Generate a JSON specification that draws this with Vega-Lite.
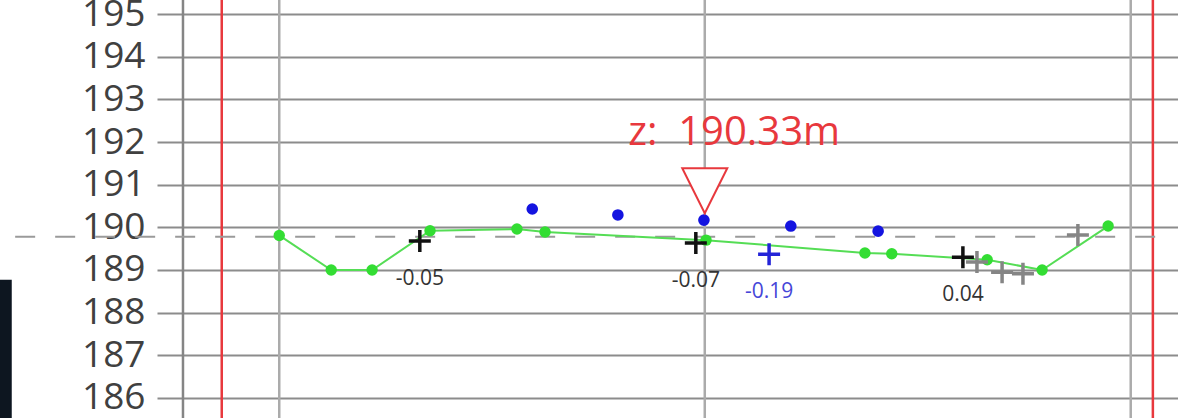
{
  "$schema": "https://vega.github.io/schema/vega-lite/v6.json",
  "width": 1021,
  "height": 418,
  "autosize": {"type": "none"},
  "padding": {"left": 157, "top": 0, "right": 0, "bottom": 0},
  "background": "white",
  "config": {
    "view": {"stroke": null},
    "axisY": {
      "grid": true, "gridColor": "#8c8c8c", "gridWidth": 2, "gridOpacity": 1,
      "domain": false, "ticks": false,
      "labelFont": "Open Sans", "labelFontSize": 37, "labelColor": "#404040", "labelPadding": 12
    }
  },
  "resolve": {"scale": {"color": "independent"}},
  "datasets": {
    "panel": [{"x": -16.55, "x2": -16.27, "y": 185.53, "y2": 188.77}],
    "vlines": [
      {"x": -12.25, "kind": "axis"},
      {"x": -9.99, "kind": "grid"},
      {"x": 0.0, "kind": "grid"},
      {"x": 10.0, "kind": "grid"},
      {"x": -11.34, "kind": "bank"},
      {"x": 10.52, "kind": "bank"}
    ],
    "dashed": [{"x": -16.19, "x2": 11.0, "y": 189.78}],
    "green": [
      {"x": -9.99, "y": 189.81},
      {"x": -8.77, "y": 189.0},
      {"x": -7.81, "y": 189.0},
      {"x": -6.45, "y": 189.92},
      {"x": -4.41, "y": 189.96},
      {"x": -3.75, "y": 189.89},
      {"x": 0.03, "y": 189.7},
      {"x": 3.76, "y": 189.4},
      {"x": 4.39, "y": 189.38},
      {"x": 6.63, "y": 189.24},
      {"x": 7.92, "y": 189.0},
      {"x": 9.47, "y": 190.03}
    ],
    "blue": [
      {"x": -4.05, "y": 190.43},
      {"x": -2.04, "y": 190.29},
      {"x": -0.02, "y": 190.17},
      {"x": 2.02, "y": 190.03},
      {"x": 4.07, "y": 189.91}
    ],
    "plus": [
      {"x": -6.69, "y": 189.68, "c": "black", "label": "-0.05"},
      {"x": -0.21, "y": 189.63, "c": "black", "label": "-0.07"},
      {"x": 1.51, "y": 189.37, "c": "blue", "label": "-0.19"},
      {"x": 6.06, "y": 189.3, "c": "black", "label": "0.04"},
      {"x": 6.39, "y": 189.19, "c": "gray", "label": ""},
      {"x": 6.98, "y": 188.95, "c": "gray", "label": ""},
      {"x": 7.47, "y": 188.91, "c": "gray", "label": ""},
      {"x": 8.76, "y": 189.82, "c": "gray", "label": ""}
    ],
    "level": [{"x": 0.0, "y": 190.33}],
    "zlabel": [{"x": 0.69, "y": 191.93, "label": "z:\u00a0\u00a0190.33m"}]
  },
  "layer": [
    {
      "data": {"name": "panel"},
      "mark": {"type": "rect", "color": "#0d1620", "clip": false},
      "encoding": {
        "x": {"field": "x", "type": "quantitative", "scale": {"domain": [-12.86, 11.11], "nice": false, "zero": false}, "axis": null},
        "x2": {"field": "x2"},
        "y": {"field": "y", "type": "quantitative", "scale": {"domain": [185.53, 195.33], "nice": false, "zero": false}, "axis": {"title": null}},
        "y2": {"field": "y2"}
      }
    },
    {
      "data": {"name": "vlines"},
      "mark": {"type": "rule", "strokeWidth": 2.5},
      "encoding": {
        "x": {"field": "x", "type": "quantitative", "scale": {"domain": [-12.86, 11.11], "nice": false, "zero": false}, "axis": null},
        "color": {"field": "kind", "type": "nominal", "scale": {"domain": ["axis", "grid", "bank"], "range": ["#858585", "#ababab", "#e8383d"]}, "legend": null}
      }
    },
    {
      "data": {"name": "dashed"},
      "mark": {"type": "rule", "color": "#9a9a9a", "strokeWidth": 2, "strokeDash": [20, 20]},
      "encoding": {
        "x": {"field": "x", "type": "quantitative", "scale": {"domain": [-12.86, 11.11], "nice": false, "zero": false}, "axis": null},
        "x2": {"field": "x2"},
        "y": {"field": "y", "type": "quantitative", "scale": {"domain": [185.53, 195.33], "nice": false, "zero": false}, "axis": {"title": null}}
      }
    },
    {
      "data": {"name": "green"},
      "mark": {"type": "line", "color": "#55dd55", "strokeWidth": 2},
      "encoding": {
        "x": {"field": "x", "type": "quantitative", "scale": {"domain": [-12.86, 11.11], "nice": false, "zero": false}, "axis": null},
        "y": {"field": "y", "type": "quantitative", "scale": {"domain": [185.53, 195.33], "nice": false, "zero": false}, "axis": {"title": null}}
      }
    },
    {
      "data": {"name": "green"},
      "mark": {"type": "circle", "color": "#33dd33", "size": 130, "opacity": 1},
      "encoding": {
        "x": {"field": "x", "type": "quantitative", "scale": {"domain": [-12.86, 11.11], "nice": false, "zero": false}, "axis": null},
        "y": {"field": "y", "type": "quantitative", "scale": {"domain": [185.53, 195.33], "nice": false, "zero": false}, "axis": {"title": null}}
      }
    },
    {
      "data": {"name": "blue"},
      "mark": {"type": "circle", "color": "#1414e0", "size": 135, "opacity": 1},
      "encoding": {
        "x": {"field": "x", "type": "quantitative", "scale": {"domain": [-12.86, 11.11], "nice": false, "zero": false}, "axis": null},
        "y": {"field": "y", "type": "quantitative", "scale": {"domain": [185.53, 195.33], "nice": false, "zero": false}, "axis": {"title": null}}
      }
    },
    {
      "data": {"name": "plus"},
      "mark": {"type": "point", "shape": "M-1,0L1,0M0,-1L0,1", "filled": false, "size": 484, "strokeWidth": 3.5, "opacity": 1},
      "encoding": {
        "x": {"field": "x", "type": "quantitative", "scale": {"domain": [-12.86, 11.11], "nice": false, "zero": false}, "axis": null},
        "y": {"field": "y", "type": "quantitative", "scale": {"domain": [185.53, 195.33], "nice": false, "zero": false}, "axis": {"title": null}},
        "color": {"field": "c", "type": "nominal", "scale": {"domain": ["black", "blue", "gray"], "range": ["#111111", "#2424d8", "#858585"]}, "legend": null}
      }
    },
    {
      "data": {"name": "plus"},
      "mark": {"type": "text", "font": "Open Sans", "fontSize": 21, "dy": 44, "baseline": "alphabetic", "align": "center"},
      "encoding": {
        "x": {"field": "x", "type": "quantitative", "scale": {"domain": [-12.86, 11.11], "nice": false, "zero": false}, "axis": null},
        "y": {"field": "y", "type": "quantitative", "scale": {"domain": [185.53, 195.33], "nice": false, "zero": false}, "axis": {"title": null}},
        "text": {"field": "label"},
        "color": {"field": "c", "type": "nominal", "scale": {"domain": ["black", "blue", "gray"], "range": ["#333333", "#4646d8", "#777777"]}, "legend": null}
      }
    },
    {
      "data": {"name": "level"},
      "mark": {"type": "point", "shape": "M-1,-2L1,-2L0,0Z", "filled": true, "fill": "white", "stroke": "#e8383d", "strokeWidth": 2, "size": 2025, "opacity": 1, "fillOpacity": 1},
      "encoding": {
        "x": {"field": "x", "type": "quantitative", "scale": {"domain": [-12.86, 11.11], "nice": false, "zero": false}, "axis": null},
        "y": {"field": "y", "type": "quantitative", "scale": {"domain": [185.53, 195.33], "nice": false, "zero": false}, "axis": {"title": null}}
      }
    },
    {
      "data": {"name": "zlabel"},
      "mark": {"type": "text", "font": "Open Sans", "fontSize": 40, "color": "#e8383d", "baseline": "alphabetic", "align": "center"},
      "encoding": {
        "x": {"field": "x", "type": "quantitative", "scale": {"domain": [-12.86, 11.11], "nice": false, "zero": false}, "axis": null},
        "y": {"field": "y", "type": "quantitative", "scale": {"domain": [185.53, 195.33], "nice": false, "zero": false}, "axis": {"title": null}},
        "text": {"field": "label"}
      }
    }
  ]
}
